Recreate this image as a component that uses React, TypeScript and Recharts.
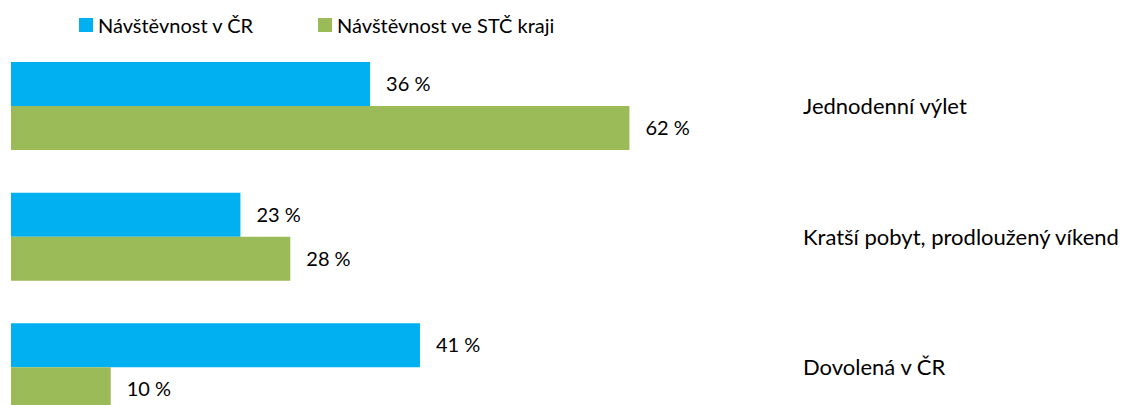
import React from 'react';
import { BarChart, Bar, XAxis, YAxis, LabelList } from 'recharts';

const categories = ['Jednodenní výlet', 'Kratší pobyt, prodloužený víkend', 'Dovolená v ČR'];
const cr = [36, 23, 41];
const stc = [62, 28, 10];
const seriesNames = ['Návštěvnost v ČR', 'Návštěvnost ve STČ kraji'];
const seriesColors = ['#00B0F0', '#9BBB59'];

const data = categories.map((name, i) => ({ name, cr: cr[i], stc: stc[i] }));

const FONT = 'Lato, "Open Sans", sans-serif';

const CategoryTick = (props: any) => {
  const { x, y, payload } = props;
  return (
    <text x={x} y={y} dy="0.35em" textAnchor="start" fontSize={22} fill="#000" fontFamily={FONT}>
      {payload.value}
    </text>
  );
};

// legend drawn as plain html so it doesn't push the plot down
const LegendBox = () => (
  <div style={{ position: 'absolute', left: 79, top: 13, display: 'flex', fontFamily: FONT, fontSize: 20, color: '#000' }}>
    {seriesNames.map((n, i) => (
      <div key={n} style={{ display: 'flex', alignItems: 'center', marginRight: 65 }}>
        <span style={{ width: 14, height: 14, background: seriesColors[i], marginRight: 5, display: 'inline-block' }} />
        <span>{n}</span>
      </div>
    ))}
  </div>
);

export default function App() {
  const fmt = (v: any) => `${v} %`;
  return (
    <div style={{ position: 'fixed', left: 0, top: 0, width: 1125, height: 405, overflow: 'hidden', background: '#fff' }}>
      <BarChart
        width={1125}
        height={440}
        data={data}
        layout="vertical"
        margin={{ top: 41, left: 11, right: 0, bottom: 7 }}
        barSize={44}
        barGap={0}
      >
        <XAxis type="number" domain={[0, 79]} hide />
        <YAxis
          type="category"
          dataKey="name"
          orientation="right"
          width={326}
          axisLine={false}
          tickLine={false}
          tickSize={0}
          tickMargin={4}
          tick={<CategoryTick />}
        />
        <Bar dataKey="cr" name={seriesNames[0]} fill={seriesColors[0]} isAnimationActive={false}>
          <LabelList dataKey="cr" position="right" offset={16} formatter={fmt} fill="#000" fontSize={20} fontFamily={FONT} />
        </Bar>
        <Bar dataKey="stc" name={seriesNames[1]} fill={seriesColors[1]} isAnimationActive={false}>
          <LabelList dataKey="stc" position="right" offset={16} formatter={fmt} fill="#000" fontSize={20} fontFamily={FONT} />
        </Bar>
      </BarChart>
      <LegendBox />
    </div>
  );
}
